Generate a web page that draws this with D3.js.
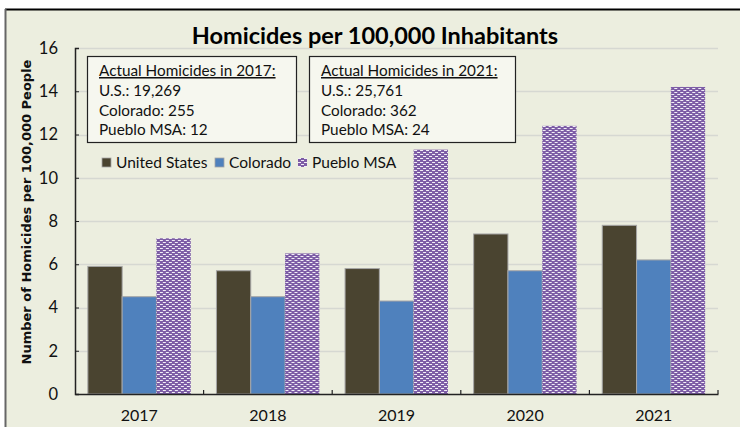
<!DOCTYPE html>
<html>
<head>
<meta charset="utf-8">
<script src="https://cdn.jsdelivr.net/npm/d3@7"></script>
<style>
  html, body { margin: 0; padding: 0; background: #ffffff; }
  svg { display: block; }
</style>
</head>
<body>
<svg id="chart" width="740" height="427"></svg>
<script>
const years = ["2017", "2018", "2019", "2020", "2021"];
const seriesNames = ["United States", "Colorado", "Pueblo MSA"];
const unitedStates = [5.9, 5.7, 5.8, 7.4, 7.8];
const colorado = [4.5, 4.5, 4.3, 5.7, 6.2];
const puebloMSA = [7.2, 6.5, 11.3, 12.4, 14.2];
const yTicks = [0, 2, 4, 6, 8, 10, 12, 14, 16];
const note2017 = ["Actual Homicides in 2017:", "U.S.: 19,269", "Colorado: 255", "Pueblo MSA: 12"];
const note2021 = ["Actual Homicides in 2021:", "U.S.: 25,761", "Colorado: 362", "Pueblo MSA: 24"];
const titleText = "Homicides per 100,000 Inhabitants";
const yAxisTitle = "Number of Homicides per 100,000 People";

const seriesValues = [unitedStates, colorado, puebloMSA];
const fills = ["#4A4430", "#4F81BD", "url(#pueblo)"];
const font = "Lato, 'Open Sans', sans-serif";

const svg = d3.select("#chart");

// pattern
const defs = svg.append("defs");
const pat = defs.append("pattern").attr("id", "pueblo").attr("patternUnits", "userSpaceOnUse")
  .attr("width", 6).attr("height", 4);
pat.append("rect").attr("width", 6).attr("height", 4).attr("fill", "#7D5DA6");
pat.append("rect").attr("x", 0).attr("y", 0).attr("width", 3).attr("height", 1).attr("fill", "#F2EEF7");
pat.append("rect").attr("x", 3).attr("y", 2).attr("width", 3).attr("height", 1).attr("fill", "#F2EEF7");

// background + frame
svg.append("rect").attr("x", 5).attr("y", 9).attr("width", 735).attr("height", 418).attr("fill", "#ECEEDF");
svg.append("line").attr("x1", 5).attr("x2", 740).attr("y1", 9.5).attr("y2", 9.5).attr("stroke", "#000").attr("stroke-width", 2);
svg.append("line").attr("x1", 5.5).attr("x2", 5.5).attr("y1", 9).attr("y2", 427).attr("stroke", "#666").attr("stroke-width", 2);

const mLeft = 75, mRight = 718, mTop = 48, mBottom = 394;
const x0 = d3.scaleBand().domain(years).range([mLeft, mRight]).paddingInner(0.2).paddingOuter(0.1);
const xb = d3.scaleBand().domain(years).range([mLeft, mRight]);
const x1 = d3.scaleBand().domain(seriesNames).range([0, x0.bandwidth()]);
const y = d3.scaleLinear().domain([0, 16]).range([mBottom, mTop]);

// gridlines
svg.append("g").selectAll("line").data(yTicks.filter(d => d > 0)).join("line")
  .attr("x1", mLeft).attr("x2", mRight)
  .attr("y1", d => Math.round(y(d)) + 0.5).attr("y2", d => Math.round(y(d)) + 0.5)
  .attr("stroke", "#D6D8D2").attr("stroke-width", 1.5);

// bars
const groups = svg.append("g").selectAll("g").data(years).join("g")
  .attr("transform", d => `translate(${x0(d)},0)`);
groups.selectAll("rect").data((d, i) => seriesNames.map((s, k) => ({ s, k, v: seriesValues[k][i] })))
  .join("rect")
  .attr("x", d => x1(d.s))
  .attr("width", x1.bandwidth())
  .attr("y", d => y(d.v))
  .attr("height", d => y(0) - y(d.v))
  .attr("fill", d => fills[d.k])
  .attr("stroke", d => d.k === 2 ? "none" : "#A6A6A6")
  .attr("stroke-width", 1);

// y axis
const yAxis = d3.axisLeft(y).tickValues(yTicks).tickSize(-4).tickPadding(17);
const yg = svg.append("g").attr("transform", `translate(${mLeft},0)`).call(yAxis);
yg.select(".domain").attr("stroke", "#222").attr("stroke-width", 1.5);
yg.selectAll(".tick line").attr("stroke", "#222");
yg.selectAll("text").attr("font-family", font).attr("font-size", 16.5).attr("fill", "#111");

// x axis
const xAxis = d3.axisBottom(xb).tickSize(0).tickPadding(16);
const xg = svg.append("g").attr("transform", `translate(0,${mBottom})`).call(xAxis);
xg.select(".domain").attr("stroke", "#222").attr("stroke-width", 1.5);
xg.selectAll("text").attr("font-family", font).attr("font-size", 16).attr("fill", "#111");
// category boundary ticks (inside)
const bounds = years.map(d => xb(d)).concat([mRight]).slice(1);
svg.append("g").selectAll("line").data(bounds).join("line")
  .attr("x1", d => d).attr("x2", d => d).attr("y1", mBottom - 4).attr("y2", mBottom)
  .attr("stroke", "#222").attr("stroke-width", 1.2);

// title
svg.append("text").attr("x", 375).attr("y", 44).attr("text-anchor", "middle")
  .attr("font-family", font).attr("font-weight", "bold").attr("font-size", 23.5).attr("fill", "#000")
  .text(titleText);

// y axis title
svg.append("text").attr("transform", `translate(31,212) rotate(-90)`).attr("text-anchor", "middle")
  .attr("font-family", "'DejaVu Sans', Verdana, sans-serif").attr("font-weight", "bold").attr("font-size", 13)
  .attr("fill", "#111").text(yAxisTitle);

// note boxes
function noteBox(x, yTop, w, h, lines) {
  const g = svg.append("g");
  g.append("rect").attr("x", x + 0.5).attr("y", yTop + 0.5).attr("width", w).attr("height", h)
    .attr("fill", "#F6F7EF").attr("stroke", "#222").attr("stroke-width", 1.2);
  g.selectAll("text").data(lines).join("text")
    .attr("x", x + 12).attr("y", (d, i) => yTop + 20 + i * 19.8)
    .attr("font-family", font).attr("font-size", 15.3).attr("fill", "#111")
    .attr("text-decoration", (d, i) => i === 0 ? "underline" : null)
    .text(d => d);
}
noteBox(87, 56, 209, 86, note2017);
noteBox(309, 56, 206, 86, note2021);

// legend
const legendX = [102, 215, 298];
const lg = svg.append("g").selectAll("g").data(seriesNames).join("g")
  .attr("transform", (d, i) => `translate(${legendX[i]},158)`);
lg.append("rect").attr("width", 9).attr("height", 9).attr("fill", (d, i) => fills[i])
  .attr("stroke", (d, i) => i === 2 ? "none" : "#A6A6A6").attr("stroke-width", 0.8);
lg.append("text").attr("x", 14).attr("y", 10).attr("font-family", font).attr("font-size", 15.5).attr("fill", "#111")
  .text(d => d);
</script>
</body>
</html>
